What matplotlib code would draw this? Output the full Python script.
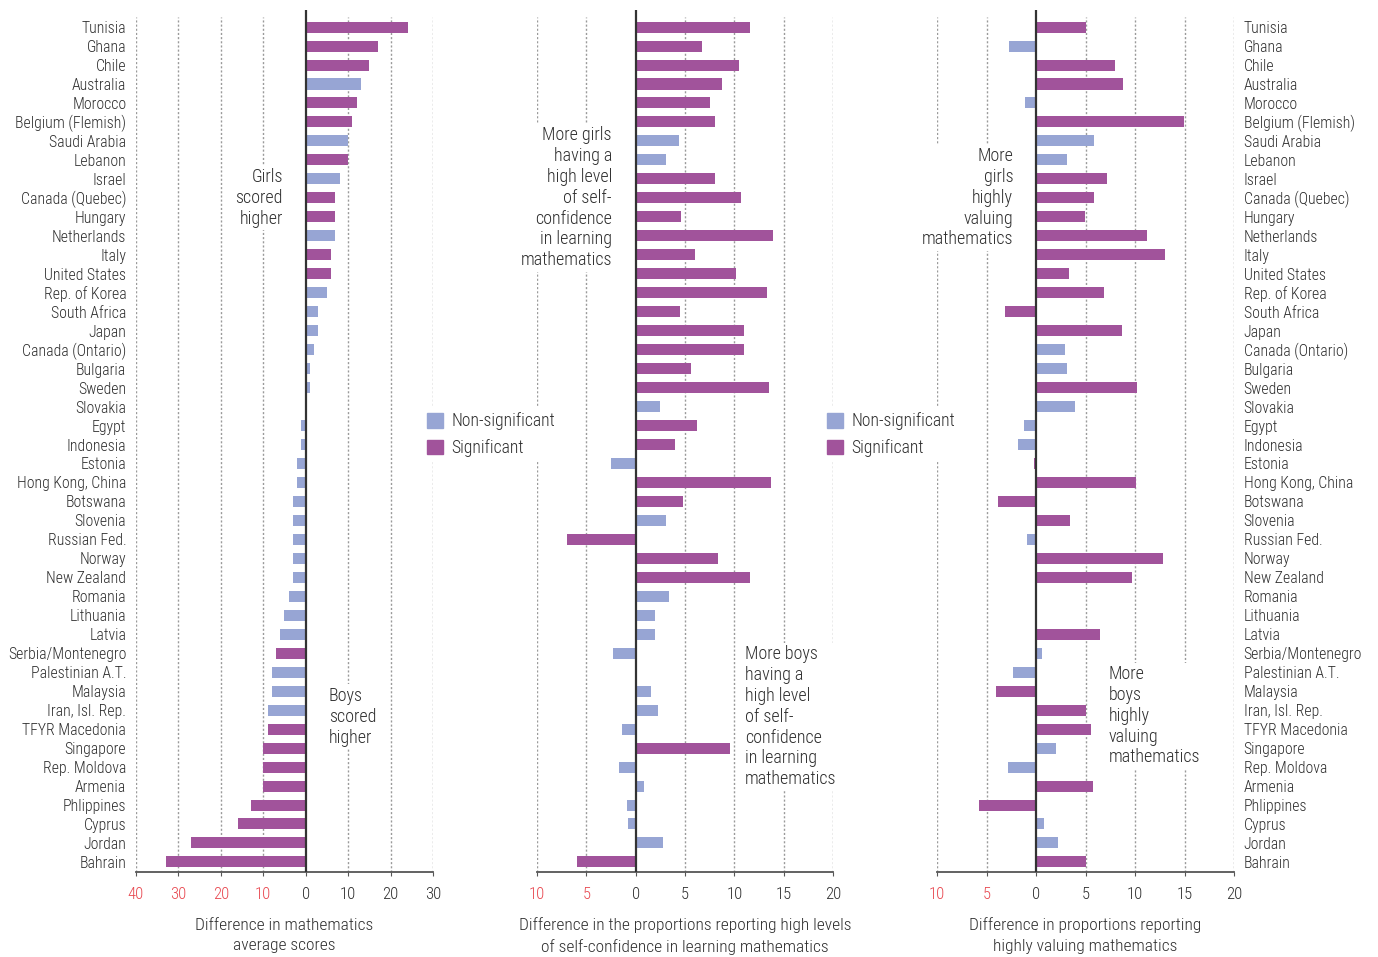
import numpy as np
import matplotlib
matplotlib.use("Agg")
import matplotlib.pyplot as plt
from matplotlib.patches import Patch
from matplotlib import font_manager

# pick a narrow font if present
names = {f.name for f in font_manager.fontManager.ttflist}
font = "Liberation Sans"
for cand in ["Roboto Condensed", "Archivo Narrow", "Asap Condensed"]:
    if cand in names:
        font = cand
        break
plt.rcParams["font.family"] = [font, "DejaVu Sans"]
plt.rcParams["font.weight"] = "light"
plt.rcParams["axes.labelweight"] = "light"

countries = ["Tunisia", "Ghana", "Chile", "Australia", "Morocco", "Belgium (Flemish)",
             "Saudi Arabia", "Lebanon", "Israel", "Canada (Quebec)", "Hungary", "Netherlands",
             "Italy", "United States", "Rep. of Korea", "South Africa", "Japan", "Canada (Ontario)",
             "Bulgaria", "Sweden", "Slovakia", "Egypt", "Indonesia", "Estonia", "Hong Kong, China",
             "Botswana", "Slovenia", "Russian Fed.", "Norway", "New Zealand", "Romania",
             "Lithuania", "Latvia", "Serbia/Montenegro", "Palestinian A.T.", "Malaysia",
             "Iran, Isl. Rep.", "TFYR Macedonia", "Singapore", "Rep. Moldova", "Armenia",
             "Phlippines", "Cyprus", "Jordan", "Bahrain"]

# difference in mathematics average scores
scores = [24, 17, 15, 13, 12, 11, 10, 10, 8, 7, 7, 7, 6, 6, 5, 3, 3, 2, 1, 1, 0, -1, -1,
          -2, -2, -3, -3, -3, -3, -3, -4, -5, -6, -7, -8, -8, -9, -9, -10, -10, -10,
          -13, -16, -27, -33]
scores_sig = [1, 1, 1, 0, 1, 1, 0, 1, 0, 1, 1, 0, 1, 1, 0, 0, 0, 0, 0, 0, 0, 0, 0,
              0, 0, 0, 0, 0, 0, 0, 0, 0, 0, 1, 0, 0, 0, 1, 1, 1, 1, 1, 1, 1, 1]

# difference in proportions with high self-confidence
confidence = [11.6, 6.7, 10.5, 8.75, 7.5, 8.0, 4.4, 3.1, 8.0, 10.7, 4.6, 13.9, 6.0, 10.2,
              13.3, 4.5, 11.0, 11.0, 5.6, 13.5, 2.5, 6.2, 4.0, -2.5, 13.7, 4.8, 3.1, -7.0,
              8.3, 11.6, 3.4, 2.0, 2.0, -2.3, 0.15, 1.6, 2.3, -1.4, 9.6, -1.7, 0.8, -0.9,
              -0.8, 2.8, -5.9]
confidence_sig = [1, 1, 1, 1, 1, 1, 0, 0, 1, 1, 1, 1, 1, 1, 1, 1, 1, 1, 1, 1, 0, 1, 1,
                  0, 1, 1, 0, 1, 1, 1, 0, 0, 0, 0, 1, 0, 0, 0, 1, 0, 0, 0, 0, 0, 1]

# difference in proportions highly valuing mathematics
valuing = [5.0, -2.7, 8.0, 8.8, -1.1, 14.9, 5.9, 3.1, 7.2, 5.9, 4.9, 11.2, 13.0, 3.3, 6.9,
           -3.1, 8.7, 2.9, 3.1, 10.2, 3.9, -1.2, -1.8, -0.2, 10.1, -3.8, 3.4, -0.9, 12.8,
           9.7, np.nan, np.nan, 6.5, 0.6, -2.3, -4.0, 5.0, 5.6, 2.0, -2.8, 5.8, -5.8, 0.8,
           2.2, 5.0]
valuing_sig = [1, 0, 1, 1, 0, 1, 0, 0, 1, 1, 1, 1, 1, 1, 1, 1, 1, 0, 0, 1, 0, 0, 0,
               1, 1, 1, 1, 0, 1, 1, 0, 0, 1, 0, 0, 1, 1, 1, 0, 0, 1, 1, 0, 0, 1]

ticks1 = [-40, -30, -20, -10, 0, 10, 20, 30]
ticks23 = [-10, -5, 0, 5, 10, 15, 20]

SIG = "#a1539b"
NONSIG = "#97a5d4"
RED = "#e8474f"
TXT = "#2e2e2e"
GRID = "#9a9a9a"
FS = 11.3

fig = plt.figure(figsize=(13.78, 9.57), dpi=100)
bottom, height = 85 / 957, 862 / 957
ax1 = fig.add_axes([136 / 1378, bottom, 297 / 1378, height])
ax2 = fig.add_axes([537 / 1378, bottom, 296 / 1378, height])
ax3 = fig.add_axes([937 / 1378, bottom, 297 / 1378, height])

y = np.arange(len(countries))


def panel(ax, vals, sig, ticks, xlabel):
    vals = np.nan_to_num(np.array(vals, dtype=float))
    cols = [SIG if s else NONSIG for s in sig]
    for t in ticks:
        if t != 0:
            ax.axvline(t, ymax=0.992, color=GRID, lw=1, ls=(0, (1.5, 1.5)), zorder=0)
    ax.barh(y, vals, height=0.58, color=cols, zorder=2)
    ax.axvline(0, color="#333333", lw=1.6, zorder=3)
    ax.set_xlim(ticks[0], ticks[-1])
    ax.set_ylim(44.53, -0.9)
    ax.set_xticks(ticks)
    ax.set_xticklabels([str(abs(t)) for t in ticks], fontsize=FS + 0.7)
    for lab, t in zip(ax.get_xticklabels(), ticks):
        lab.set_color(RED if t < 0 else TXT)
    ax.tick_params(axis="x", length=3, color="#555555", pad=8)
    for s in ["top", "left", "right"]:
        ax.spines[s].set_visible(False)
    ax.spines["bottom"].set_color("#555555")
    ax.spines["bottom"].set_linewidth(1.3)
    ax.set_xlabel(xlabel, fontsize=FS + 1.2, color=TXT, labelpad=11, linespacing=1.45)
    ax.set_yticks([])


panel(ax1, scores, scores_sig, ticks1, "Difference in mathematics\naverage scores")
panel(ax2, confidence, confidence_sig, ticks23,
      "Difference in the proportions reporting high levels\nof self-confidence in learning mathematics")
panel(ax3, valuing, valuing_sig, ticks23,
      "Difference in proportions reporting\nhighly valuing mathematics")

# country names on both sides
ax1.set_yticks(y)
ax1.set_yticklabels(countries, fontsize=FS, color=TXT)
ax1.tick_params(axis="y", length=0, pad=7)
ax3.yaxis.tick_right()
ax3.set_yticks(y)
ax3.set_yticklabels(countries, fontsize=FS, color=TXT)
ax3.tick_params(axis="y", length=0, pad=7)

box = dict(facecolor="white", edgecolor="none", pad=2)
note = dict(fontsize=FS + 1.7, color=TXT, va="center", linespacing=1.2, bbox=box, zorder=4)
ax1.text(-5.4, 9.0, "Girls\nscored\nhigher", ha="right", multialignment="right", **note)
ax1.text(5.4, 36.35, "Boys\nscored\nhigher", ha="left", **note)
ax2.text(-2.4, 9.0, "More girls\nhaving a\nhigh level\nof self-\nconfidence\nin learning\nmathematics",
         ha="right", multialignment="right", **note)
ax2.text(11.1, 36.35, "More boys\nhaving a\nhigh level\nof self-\nconfidence\nin learning\nmathematics",
         ha="left", **note)
ax3.text(-2.3, 9.0, "More\ngirls\nhighly\nvaluing\nmathematics", ha="right",
         multialignment="right", **note)
ax3.text(7.3, 36.3, "More\nboys\nhighly\nvaluing\nmathematics", ha="left", **note)

handles = [Patch(color=NONSIG, label="Non-significant"), Patch(color=SIG, label="Significant")]
for xpos in [422 / 1378, 822 / 1378]:
    fig.legend(handles=handles, loc="upper left", bbox_to_anchor=(xpos, 1 - 407 / 957),
               frameon=True, facecolor="white", edgecolor="none", framealpha=1,
               fontsize=FS + 1.4, handlelength=0.9, handleheight=0.9, handletextpad=0.45,
               labelspacing=0.5, borderpad=0.3, borderaxespad=0, fancybox=False,
               labelcolor=TXT)

fig.savefig("out.png", dpi=100, facecolor="white")
